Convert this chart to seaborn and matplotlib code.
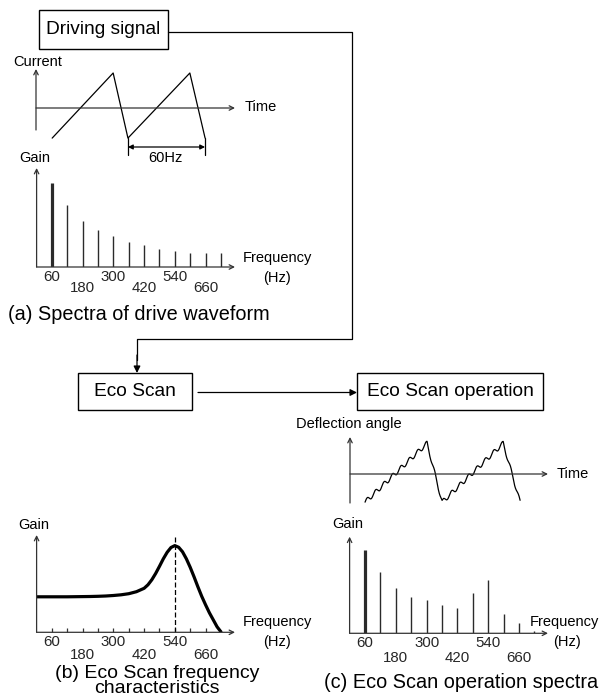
import numpy as np
import matplotlib
matplotlib.use("Agg")
import matplotlib.pyplot as plt
from matplotlib.patches import Rectangle
import seaborn as sns

# ---------------- data ----------------
harm_hz = [60, 120, 180, 240, 300, 360, 420, 480, 540, 600, 660, 720]
drive_gain = [84, 62, 46, 37, 31, 25, 22, 18, 16, 14, 14, 14]            # (a)
eco_gain = [83, 61, 45.5, 36.5, 33, 28.5, 25.5, 40.5, 53.5, 19.5, 10.5, 2]  # (c)
tick_row1 = [60, 300, 540]
tick_row2 = [180, 420, 660]

resp_hz = [0, 30, 60, 90, 120, 150, 180, 210, 240, 270, 300, 330, 360, 390, 420,
           435, 450, 465, 480, 495, 510, 525, 540, 555, 570, 585, 600, 615, 630,
           645, 660, 675, 690, 705, 720]
resp_gain = [35.5, 35.5, 35.5, 35.5, 35.5, 35.6, 35.7, 35.8, 36.0, 36.3, 36.8,
             37.5, 38.6, 40.6, 44.0, 47.5, 52.5, 58.8, 66.0, 73.5, 80.0, 84.8,
             86.7, 85.0, 80.5, 73.5, 65.0, 55.5, 45.5, 36.0, 27.5, 19.5, 12.5,
             5.5, 0.5]

drive_t_ms = [3.5, 16.7, 19.9, 33.3, 36.6]
drive_current = [-0.86, 1.0, -0.86, 1.0, -0.86]

defl_t_ms = [3.3, 16.9, 20.2, 33.6, 37.3]
defl_base = [-0.88, 0.96, -0.88, 0.96, -0.88]
ripple_hz = 540
ripple_amp = 0.075

# ---------------- figure ----------------
sns.set_theme(style="white")
plt.rcParams["font.family"] = ["Liberation Sans", "DejaVu Sans"]
W, H = 608, 700
fig = plt.figure(figsize=(W / 100, H / 100), dpi=100)
fig.patch.set_facecolor("white")

AX_C = "#333333"

def px_axes(x0, y0, x1, y1):
    a = fig.add_axes([x0 / W, 1 - y1 / H, (x1 - x0) / W, (y1 - y0) / H])
    a.patch.set_alpha(0)
    for s in a.spines.values():
        s.set_visible(False)
    a.set_xticks([]); a.set_yticks([])
    return a

def arrow(ax, x0, y0, x1, y1, style="->", color=AX_C, lw=0.9, ms=8):
    ax.annotate("", xy=(x1, y1), xytext=(x0, y0),
                arrowprops=dict(arrowstyle=style, lw=lw, color=color,
                                shrinkA=0, shrinkB=0, mutation_scale=ms),
                annotation_clip=False)

# overlay in pixel coords
ov = fig.add_axes([0, 0, 1, 1])
ov.set_xlim(0, W); ov.set_ylim(H, 0); ov.axis("off")

def txt(x, y, s, fs=10.5, **kw):
    ov.text(x, y, s, fontsize=fs, ha="center", va="center", color="black", **kw)

def box(x0, y0, x1, y1, label):
    ov.add_patch(Rectangle((x0, y0), x1 - x0, y1 - y0, fill=False, lw=1.0, ec="black"))
    txt((x0 + x1) / 2, (y0 + y1) / 2, label, fs=13.8)

# boxes & connectors
box(39, 10, 168, 49, "Driving signal")
box(78, 373, 192, 410, "Eco Scan")
box(357, 373, 543, 410, "Eco Scan operation")
ov.plot([168, 352, 352, 137, 137], [31.5, 31.5, 339, 339, 360], color="black", lw=0.9)
arrow(ov, 137, 355, 137, 373, style="-|>", color="black", ms=10)
arrow(ov, 198, 392.5, 357, 392.5, style="-|>", color="black", ms=10)

# ---------------- (a) drive waveform ----------------
pms_a = 4.62; unit_a = 35.0; zero_a = 108
axw = px_axes(36, 60, 260, 165)
axw.set_xlim(0, 224 / pms_a)
axw.set_ylim(-(165 - zero_a) / unit_a, (zero_a - 60) / unit_a)
sns.lineplot(x=drive_t_ms, y=drive_current, ax=axw, color="black", lw=0.9, sort=False)
arrow(axw, 0, -(130 - zero_a) / unit_a, 0, (zero_a - 69) / unit_a)
arrow(axw, 0, 0, (235 - 36) / pms_a, 0)
ylo = -(155 - zero_a) / unit_a
for tx in (drive_t_ms[2], drive_t_ms[4]):
    axw.plot([tx, tx], [drive_current[2], ylo], color="black", lw=0.9)
arrow(axw, drive_t_ms[2], -(147 - zero_a) / unit_a, drive_t_ms[4], -(147 - zero_a) / unit_a,
      style="<|-|>", color="black", ms=7)
txt(38, 62, "Current")
txt(261, 107, "Time")
txt(165, 158, "60Hz")

# ---------------- spectrum helper ----------------
def spectrum(x0, ytop, ybase, pxhz, values, off1, off2, xarrow_px):
    ax = px_axes(x0, ytop, x0 + 200, ybase)
    ax.set_xlim(0, 200 / pxhz)
    ax.set_ylim(0, ybase - ytop)
    arrow(ax, 0, 0, 0, ybase - ytop)
    arrow(ax, 0, 0, (xarrow_px - x0) / pxhz, 0)
    if values is not None:
        lws = [2.3] + [1.0] * (len(values) - 1)
        ax.vlines(harm_hz, 0, values, colors="#2a2a2a", linewidths=lws)
    for f in tick_row1:
        ax.annotate(str(f), (f, 0), xytext=(0, -off1), textcoords="offset pixels",
                    ha="center", va="center", fontsize=10.8, annotation_clip=False)
    for f in tick_row2:
        ax.annotate(str(f), (f, 0), xytext=(0, -off2), textcoords="offset pixels",
                    ha="center", va="center", fontsize=10.8, annotation_clip=False)
    return ax

# (a) spectrum
spectrum(36.6, 168, 267, 0.256, drive_gain, 10, 21, 235)
txt(35, 158, "Gain")
txt(277, 258, "Frequency")
txt(277, 278, "(Hz)")
txt(139, 315, "(a) Spectra of drive waveform", fs=14.3)

# ---------------- (b) frequency response ----------------
axb = spectrum(36.6, 535, 632.3, 0.256, None, 9.5, 23, 235)
sns.lineplot(x=resp_hz, y=resp_gain, ax=axb, color="black", lw=2.3, sort=False)
axb.set_xticks(harm_hz[:-1])
axb.tick_params(axis="x", bottom=True, direction="in", length=3, width=0.9,
                color=AX_C, labelbottom=False, pad=0)
axb.plot([540, 540], [0, 632.3 - 534], color="black", lw=0.9, ls=(0, (4, 2)))
txt(34, 525, "Gain")
txt(277, 622, "Frequency")
txt(277, 642, "(Hz)")
txt(157, 681, "(b) Eco Scan frequency\ncharacteristics", fs=14.0, linespacing=0.8)

# ---------------- (c) deflection waveform ----------------
pms_c = 4.56; unit_c = 32.0; zero_c = 474
axcw = px_axes(350, 425, 590, 515)
axcw.set_xlim(0, 240 / pms_c)
axcw.set_ylim(-(515 - zero_c) / unit_c, (zero_c - 425) / unit_c)
t = np.linspace(defl_t_ms[0], defl_t_ms[-1], 800)
phase = -2 * np.pi * ripple_hz * defl_t_ms[0] / 1000
defl = np.interp(t, defl_t_ms, defl_base) + ripple_amp * np.sin(2 * np.pi * ripple_hz * t / 1000 + phase)
sns.lineplot(x=t, y=defl, ax=axcw, color="black", lw=0.9, sort=False)
arrow(axcw, 0, -(503 - zero_c) / unit_c, 0, (zero_c - 437) / unit_c)
arrow(axcw, 0, 0, (548 - 350) / pms_c, 0)
txt(349, 424, "Deflection angle")
txt(573, 474, "Time")

# ---------------- (c) spectrum ----------------
spectrum(349.6, 536.7, 633.3, 0.2567, eco_gain, 10, 25, 548)
txt(348, 524, "Gain")
txt(564, 622, "Frequency")
txt(567, 642, "(Hz)")
txt(461, 683, "(c) Eco Scan operation spectra", fs=14.3)

fig.savefig("out.png", dpi=100, facecolor="white")
